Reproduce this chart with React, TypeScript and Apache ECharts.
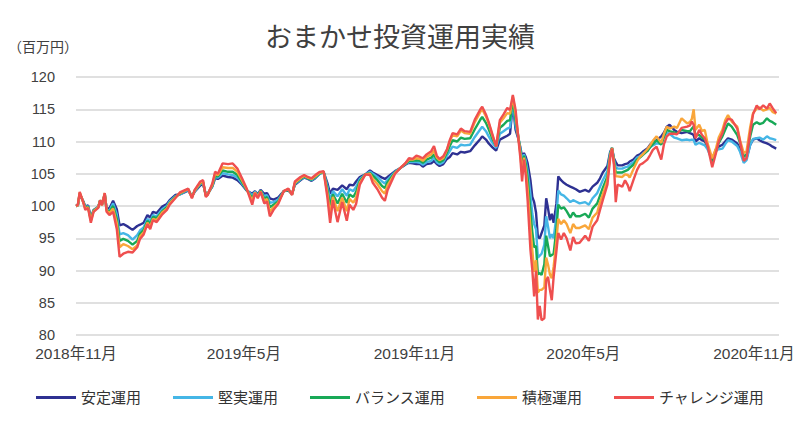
import React, { useEffect, useRef } from "react";
import * as echarts from "echarts";

const TITLE = "おまかせ投資運用実績";
const UNIT = "（百万円）";
const SERIES_NAMES = ["安定運用", "堅実運用", "バランス運用", "積極運用", "チャレンジ運用"];
const COLORS = ["#2e3192", "#45b6e6", "#18a957", "#f9a63a", "#ef4f4f"];
const TICK_DATES = ["2018-11-01", "2019-05-01", "2019-11-01", "2020-05-01", "2020-11-01"];
const TICK_LABELS = ["2018年11月", "2019年5月", "2019年11月", "2020年5月", "2020年11月"];
const Y_MIN = 80;
const Y_MAX = 120;
const Y_STEP = 5;
const X_END_DATE = "2020-11-28";

const DATES = [
  "2018-11-01","2018-11-03","2018-11-05","2018-11-09","2018-11-11","2018-11-14","2018-11-17","2018-11-20","2018-11-25","2018-11-27",
  "2018-11-29","2018-12-02","2018-12-04","2018-12-07","2018-12-11","2018-12-15","2018-12-18","2018-12-22","2018-12-27","2019-01-01",
  "2019-01-06","2019-01-09","2019-01-13","2019-01-17","2019-01-20","2019-01-23","2019-01-27","2019-02-02","2019-02-07","2019-02-10",
  "2019-02-16",
  "2019-02-21","2019-02-27","2019-03-02","2019-03-06","2019-03-09","2019-03-15","2019-03-18","2019-03-21","2019-03-23","2019-03-28",
  "2019-03-31","2019-04-03","2019-04-08","2019-04-14","2019-04-19","2019-04-24","2019-04-29","2019-05-04","2019-05-10","2019-05-13",
  "2019-05-16","2019-05-19","2019-05-23","2019-05-26","2019-05-29","2019-06-02",
  "2019-06-07","2019-06-10","2019-06-13","2019-06-18","2019-06-22","2019-06-25","2019-07-01","2019-07-05","2019-07-09","2019-07-13",
  "2019-07-17","2019-07-22","2019-07-26","2019-07-30","2019-08-02","2019-08-05","2019-08-10","2019-08-15","2019-08-20","2019-08-23",
  "2019-08-27","2019-08-30","2019-09-03","2019-09-09","2019-09-14","2019-09-17","2019-09-22","2019-09-27","2019-09-30","2019-10-03",
  "2019-10-11","2019-10-16","2019-10-22","2019-10-26","2019-10-30","2019-11-03","2019-11-07","2019-11-10","2019-11-14","2019-11-19",
  "2019-11-22","2019-11-25","2019-11-28","2019-12-02","2019-12-06","2019-12-09","2019-12-12","2019-12-17","2019-12-21","2019-12-25",
  "2019-12-31","2020-01-05","2020-01-11","2020-01-13","2020-01-17","2020-01-20","2020-01-24","2020-01-28","2020-02-01","2020-02-05",
  "2020-02-09","2020-02-12","2020-02-15","2020-02-18",
  "2020-02-21","2020-02-23","2020-02-25","2020-02-27","2020-02-29","2020-03-02","2020-03-05","2020-03-07","2020-03-09","2020-03-11",
  "2020-03-13","2020-03-15","2020-03-17","2020-03-20","2020-03-22","2020-03-24","2020-03-26","2020-03-28","2020-03-30","2020-04-02",
  "2020-04-04","2020-04-07","2020-04-10","2020-04-13","2020-04-17","2020-04-20","2020-04-23",
  "2020-04-27","2020-05-03","2020-05-07","2020-05-11","2020-05-16","2020-05-19","2020-05-22","2020-05-27","2020-05-30","2020-06-01",
  "2020-06-03","2020-06-05","2020-06-07","2020-06-12","2020-06-15","2020-06-18","2020-06-20","2020-06-24","2020-06-28","2020-07-01",
  "2020-07-04","2020-07-09","2020-07-12","2020-07-15","2020-07-19","2020-07-24","2020-07-27","2020-07-30","2020-08-02","2020-08-07",
  "2020-08-10","2020-08-15","2020-08-21","2020-08-24","2020-08-26","2020-08-28","2020-08-30","2020-09-03","2020-09-06","2020-09-09",
  "2020-09-12","2020-09-17","2020-09-21","2020-09-24","2020-09-28","2020-10-01","2020-10-04","2020-10-08","2020-10-14","2020-10-17",
  "2020-10-21","2020-10-24","2020-10-28","2020-10-31","2020-11-04","2020-11-07","2020-11-11","2020-11-15","2020-11-18","2020-11-21",
  "2020-11-25",
];

// 安定運用
const ANTEI = [
  100,100.1,101.8,100.7,99.9,100.1,98.2,99.4,99.9,100.8,
  100.3,101.7,99.7,99.6,100.8,99.5,97.0,97.2,96.8,96.3,
  96.9,97.1,97.4,98.6,98.2,99.1,98.9,99.9,100.3,100.9,
  101.7,
  101.8,102.2,102.4,101.5,102.2,103.2,103.4,101.8,101.9,103.0,
  104.3,104.2,104.7,104.5,104.4,104.0,103.3,102.4,101.9,102.3,
  101.8,102.5,101.9,102.0,101.2,101.0,
  101.3,101.8,102.3,102.4,101.9,103.3,104.0,104.4,104.2,103.9,
  104.3,105.0,105.3,103.6,101.9,102.7,102.5,103.2,102.6,103.3,
  103.2,103.8,104.5,104.9,105.5,105.2,104.8,104.4,104.2,104.5,
  105.4,105.8,106.4,106.7,106.6,106.5,106.5,106.1,106.5,106.6,
  107.0,106.5,106.2,106.5,107.3,107.6,108.2,108.0,108.4,108.3,
  108.5,109.4,110.4,110.8,110.3,109.7,109.1,108.6,110.3,110.6,
  110.9,111.2,115.8,111.8,
  110.4,109.2,107.6,108.2,107.6,106.6,104.0,101.4,100.6,99.0,
  95.2,95.0,95.8,97.0,101.2,99.6,97.8,98.8,97.4,100.4,
  104.6,104.0,103.6,103.3,103.0,102.8,102.6,
  102.2,102.5,102.2,103.0,103.6,104.3,105.2,106.2,108.4,109.0,
  107.4,106.8,106.3,106.3,106.5,106.6,106.9,107.2,107.8,108.0,
  108.4,108.9,109.5,109.9,110.2,110.8,111.4,112.3,112.6,111.8,
  111.5,111.3,111.5,111.3,111.2,111.0,110.0,110.5,110.2,110.0,
  109.2,107.1,108.8,109.2,109.5,110.0,110.5,110.3,109.7,108.8,
  107.0,107.4,109.5,110.3,110.5,110.2,109.9,109.7,109.5,109.2,
  108.9,
];

// 堅実運用
const KENJITSU = [
  100,100.1,101.9,100.6,99.8,100.0,98.0,99.3,99.9,100.8,
  100.2,101.8,99.5,99.3,100.4,98.7,95.6,95.8,95.5,94.8,
  95.5,96.2,96.7,98.0,97.6,98.6,98.4,99.5,100.0,100.7,
  101.5,
  101.8,102.3,102.5,101.5,102.3,103.4,103.6,101.7,101.9,103.1,
  104.5,104.4,105.1,104.9,104.8,104.4,103.5,102.5,101.6,102.2,
  101.6,102.4,101.5,101.7,100.5,100.6,
  101.0,101.6,102.3,102.5,101.9,103.4,104.1,104.5,104.3,104.0,
  104.4,105.0,105.3,103.1,100.9,102.3,101.5,102.6,101.6,102.6,
  102.3,103.0,104.2,104.9,105.3,105.0,104.5,103.8,103.5,104.1,
  105.3,105.8,106.5,106.8,106.8,106.8,106.7,106.4,106.8,107.0,
  107.5,106.8,106.5,106.8,107.8,108.5,109.2,109.0,109.5,109.4,
  109.5,110.7,111.9,112.3,111.6,110.8,109.8,109.0,111.2,111.6,
  112.0,112.2,116.2,112.5,
  110.6,109.0,106.8,108.0,107.0,105.4,101.8,98.8,97.2,96.4,
  92.0,92.3,92.6,94.0,98.4,96.8,95.0,95.6,95.0,98.4,
  102.4,101.8,101.6,101.2,100.6,100.9,100.7,
  100.4,100.6,100.2,101.2,102.0,103.0,104.0,105.4,108.2,109.0,
  107.2,106.0,105.8,105.8,106.0,106.1,106.4,106.8,107.5,107.7,
  108.1,108.6,109.1,109.4,109.7,109.6,110.6,111.4,111.2,110.6,
  110.5,110.2,110.3,110.2,110.3,110.2,109.5,109.8,109.6,109.4,
  108.8,107.0,108.6,108.8,108.9,109.6,110.2,110.0,109.3,108.4,
  106.7,107.1,109.5,110.4,110.5,110.6,110.3,110.8,110.5,110.4,
  110.2,
];

// バランス運用
const BALANCE = [
  100,100.1,102.0,100.6,99.7,99.9,97.9,99.3,99.8,100.9,
  100.2,101.9,99.4,99.1,100.0,98.0,94.6,94.9,94.6,94.0,
  94.6,95.7,96.3,97.7,97.2,98.3,98.1,99.2,99.8,100.5,
  101.4,
  101.9,102.4,102.6,101.4,102.4,103.5,103.7,101.6,101.8,103.2,
  104.7,104.6,105.5,105.3,105.3,104.8,103.7,102.5,101.2,102.1,
  101.5,102.4,101.1,101.4,99.8,100.2,
  100.7,101.5,102.3,102.5,101.8,103.5,104.2,104.6,104.3,104.1,
  104.5,105.1,105.3,102.6,99.9,101.8,100.4,101.9,100.5,101.8,
  101.4,102.2,103.9,104.9,105.1,104.7,104.0,103.1,102.8,103.7,
  105.2,105.8,106.5,107.0,107.0,107.1,107.0,106.7,107.2,107.5,
  108.0,107.2,106.8,107.1,108.3,109.3,110.2,110.0,110.6,110.4,
  110.5,111.9,113.4,113.8,112.9,111.9,110.4,109.3,112.1,112.6,
  113.2,113.3,116.6,113.3,
  110.7,108.6,106.0,107.8,106.4,104.2,99.2,96.0,93.6,93.8,
  89.4,89.6,89.3,91.0,95.4,93.8,92.2,92.4,92.6,96.4,
  100.2,99.6,99.8,99.2,98.2,99.0,98.4,
  98.4,98.8,98.2,99.6,100.4,101.6,102.8,104.6,108.0,109.0,
  107.0,105.2,105.2,105.2,105.4,105.6,105.9,106.4,107.2,107.5,
  107.9,108.5,109.1,109.6,110.2,109.5,110.8,111.8,111.6,111.4,
  111.3,111.8,111.6,111.6,112.0,112.3,111.0,111.0,110.6,110.3,
  109.3,106.9,108.4,109.8,110.8,111.8,112.8,112.3,111.0,109.8,
  107.6,108.0,110.8,112.6,113.0,112.7,112.9,113.6,113.2,113.0,
  112.6,
];

// 積極運用
const SEKKYOKU = [
  100,100.1,102.1,100.5,99.6,99.8,97.7,99.2,99.8,100.9,
  100.1,102.0,99.3,98.9,99.6,97.3,93.6,94.1,93.8,93.3,
  93.9,95.3,95.9,97.4,96.8,98.0,97.8,99.0,99.6,100.4,
  101.3,
  102.0,102.4,102.6,101.3,102.4,103.6,103.8,101.5,101.8,103.3,
  105.0,104.8,106.0,105.9,105.9,105.3,104.0,102.6,100.8,102.1,
  101.4,102.3,100.8,101.1,99.1,99.8,
  100.5,101.4,102.3,102.6,101.8,103.6,104.3,104.7,104.4,104.2,
  104.6,105.2,105.3,102.0,98.7,101.4,99.2,101.3,99.2,101.1,
  100.5,101.3,103.6,104.9,105.0,104.2,103.4,102.3,101.9,103.2,
  105.1,105.8,106.6,107.2,107.2,107.4,107.3,107.0,107.6,108.0,
  108.6,107.5,107.1,107.4,108.7,110.0,111.0,110.8,111.7,111.3,
  111.2,113.0,114.6,115.0,113.9,112.8,110.9,109.3,112.9,113.6,
  114.4,114.3,117.0,114.2,
  110.6,108.2,105.0,107.5,105.6,102.6,96.5,93.2,89.8,91.6,
  86.6,87.0,87.0,87.4,92.0,90.9,89.4,88.8,90.6,94.6,
  98.0,97.2,97.8,97.2,95.8,97.2,96.6,
  96.6,97.0,96.4,98.2,99.0,100.6,101.8,104.0,107.8,109.0,
  106.8,104.6,104.6,104.5,104.9,104.8,104.4,105.7,106.9,107.6,
  108.0,108.8,109.4,110.1,110.8,109.8,111.2,112.3,112.0,112.3,
  112.1,113.6,112.8,113.0,113.5,115.0,111.8,112.6,111.6,111.8,
  109.7,107.4,108.9,110.6,111.8,113.3,114.1,113.1,112.3,110.2,
  108.2,108.5,112.3,114.4,115.1,115.3,114.8,115.0,115.2,114.6,
  114.3,
];

// チャレンジ運用
const CHALLENGE = [
  100,100.2,102.2,100.5,99.4,99.7,97.4,99.1,99.7,100.9,
  100.1,102.0,99.1,98.6,99.1,96.4,92.1,92.6,92.9,92.8,
  93.6,94.9,95.6,97.2,96.4,97.8,97.5,98.7,99.4,100.2,
  101.2,
  102.1,102.5,102.7,101.2,102.5,103.8,104.0,101.4,101.7,103.5,
  105.3,105.0,106.6,106.5,106.6,105.8,104.3,102.7,100.2,102.0,
  101.2,102.2,100.4,100.7,98.4,99.4,
  100.3,101.3,102.3,102.7,101.7,103.8,104.5,104.8,104.5,104.3,
  104.8,105.3,105.4,101.4,97.4,100.9,97.5,100.6,97.7,100.2,
  99.4,100.3,103.3,104.9,104.8,103.6,102.6,101.3,100.8,102.5,
  105.0,105.8,106.6,107.4,107.3,107.8,107.6,107.4,108.0,108.5,
  109.3,107.8,107.3,107.7,108.8,110.2,111.3,111.1,112.0,111.6,
  111.5,113.4,115.0,115.4,114.2,113.0,111.1,109.2,113.3,114.2,
  115.2,114.9,117.2,114.9,
  110.4,107.6,103.8,107.2,104.7,100.8,93.2,90.1,86.0,90.0,
  82.4,84.5,82.3,82.6,88.5,89.0,87.0,85.4,89.0,93.0,
  95.8,94.8,95.8,95.0,93.1,95.2,94.2,
  94.3,95.4,94.6,96.8,97.8,99.4,100.9,103.3,107.5,108.9,
  106.4,100.6,103.3,103.0,104.0,103.2,102.3,104.0,105.6,106.4,
  106.6,107.2,107.9,108.7,109.2,107.2,109.6,110.8,111.2,111.2,
  111.1,112.1,112.3,112.5,113.1,112.6,110.5,111.8,111.0,110.5,
  109.3,106.0,108.2,110.0,111.3,112.8,113.5,113.4,112.0,110.0,
  107.0,107.4,111.5,114.2,115.6,115.0,115.6,115.1,115.9,115.2,
  114.4,
];

const ALL_VALUES = [ANTEI, KENJITSU, BALANCE, SEKKYOKU, CHALLENGE];

const FONT = "'Liberation Sans', 'Noto Sans CJK JP', sans-serif";
const DAY = 86400000;
function dayNum(s: string): number {
  const [y, m, d] = s.split("-").map(Number);
  return Date.UTC(y, m - 1, d) / DAY;
}
const ORIGIN = dayNum(TICK_DATES[0]);
const toX = (s: string) => dayNum(s) - ORIGIN;

export default function App() {
  const ref = useRef<HTMLDivElement>(null);
  useEffect(() => {
    if (!ref.current) return;
    const chart = echarts.init(ref.current, null, { renderer: "svg" });
    const tickValues = TICK_DATES.map(toX);
    const labelMap: Record<number, string> = {};
    tickValues.forEach((v, i) => (labelMap[v] = TICK_LABELS[i]));

    chart.setOption({
      animation: false,
      backgroundColor: "#ffffff",
      title: {
        text: TITLE,
        left: "center",
        top: 19,
        textStyle: { fontSize: 27, fontWeight: "normal", color: "#404040", fontFamily: FONT },
      },
      graphic: [
        {
          type: "text",
          left: 8,
          top: 40,
          style: { text: UNIT, fontSize: 14, fill: "#404040", fontFamily: FONT },
        },
      ],
      legend: {
        data: SERIES_NAMES,
        left: "center",
        top: 385,
        icon: "rect",
        itemWidth: 40,
        itemHeight: 3,
        itemGap: 32,
        textStyle: { fontSize: 15, color: "#333333", fontFamily: FONT, padding: [0, 0, 0, 0] },
      },
      grid: { left: 76, right: 21, top: 77, bottom: 92, containLabel: false },
      xAxis: {
        type: "value",
        min: 0,
        max: toX(X_END_DATE),
        axisLine: { show: false },
        axisTick: { show: false },
        splitLine: { show: false },
        axisLabel: {
          customValues: tickValues,
          formatter: (v: number) => labelMap[v] ?? "",
          fontSize: 15.5,
          color: "#404040",
          fontFamily: FONT,
          margin: 11,
        },
      },
      yAxis: {
        type: "value",
        min: Y_MIN,
        max: Y_MAX,
        interval: Y_STEP,
        axisLine: { show: false },
        axisTick: { show: false },
        axisLabel: { fontSize: 14.5, color: "#404040", fontFamily: FONT, margin: 21 },
        splitLine: { lineStyle: { color: "#d6d6d6", width: 1.5 } },
      },
      series: SERIES_NAMES.map((name, i) => ({
        name,
        type: "line",
        showSymbol: false,
        symbol: "none",
        data: DATES.map((d, j) => [toX(d), ALL_VALUES[i][j]]),
        lineStyle: { width: 2.4, color: COLORS[i] },
        itemStyle: { color: COLORS[i] },
      })),
    });
    return () => chart.dispose();
  }, []);
  return (
    <div
      ref={ref}
      style={{ position: "fixed", left: 0, top: 0, width: 800, height: 427, background: "#fff" }}
    />
  );
}
